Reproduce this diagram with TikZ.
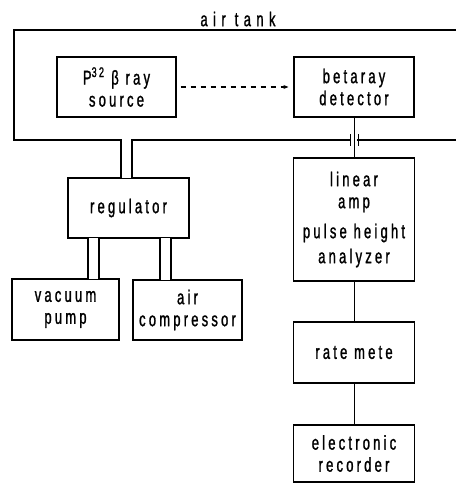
\documentclass[tikz,border=0pt]{standalone}
\usepackage{fontspec}
\setmainfont{Liberation Sans}[FakeStretch=0.65,LetterSpace=16,FakeBold=1.2]
\usetikzlibrary{arrows.meta,calc}

\begin{document}
\begin{tikzpicture}[x=1pt, y=-1pt,
  every node/.style={font=\fontsize{20}{22}\selectfont},
  unit/.style={draw, line width=1.2pt, align=center, inner sep=0pt},
  wall/.style={line width=1.4pt, line cap=rect},
  wire/.style={line width=1pt},
  beam/.style={line width=1.2pt, dash pattern=on 5pt off 5pt, -{Stealth[length=5pt,width=4pt]}, shorten <=4pt, shorten >=5pt}
]
\useasboundingbox (0,0) rectangle (456,483);

\node[font=\fontsize{20}{22}\selectfont\addfontfeatures{LetterSpace=27}] (tanklabel) at (238,19) {air\hspace{9pt}tank};
\node[unit, minimum width=119pt, minimum height=60pt] (src) at (116.5,87) {P\textsuperscript{32} β ray\\source};
\node[unit, minimum width=120pt, minimum height=60pt] (det) at (354,87) {betaray\\detector};
\node[unit, minimum width=121pt, minimum height=60pt] (reg) at (128.5,208) {regulator};
\node[unit, minimum width=107pt, minimum height=61pt] (vac) at (65.5,309.5) {vacuum\\pump};
\node[unit, minimum width=109pt, minimum height=60pt] (comp) at (187.5,310) {air\\compressor};
\node[unit, minimum width=121pt, minimum height=123pt] (lin) at (354,219.5) {linear\\amp\\[8pt]pulse height\\[3pt]analyzer};
\node[unit, minimum width=121pt, minimum height=61pt] (rate) at (354,352.5) {rate mete};
\node[unit, minimum width=121pt, minimum height=57pt] (rec) at (354,453.5) {electronic\\recorder};

% tank walls, open to the right
\coordinate (tankbottom) at (14,140);
\draw[wall] (456,30) -| (tankbottom) -- (350,140) (358,140) -- (456,140);
\draw[wire] (350,134) -- (350,146) (358,134) -- (358,146);

% air lines
\foreach \xa/\xb/\src/\dst in {121/132/tankbottom/reg.north, 88/99/reg.south/vac.north, 160/171/reg.south/comp.north}{
  \fill[white] ($(\xa,0 |- \src)+(0,-1)$) rectangle ($(\xb,0 |- \dst)+(0,1)$);
  \draw[wall] (\xa,0 |- \src) -- (\xa,0 |- \dst) (\xb,0 |- \src) -- (\xb,0 |- \dst);
}

\draw[beam] (src) -- (det);
\draw[wire] (det) -- (lin);
\draw[wire] (lin) -- (rate);
\draw[wire] (rate) -- (rec);
\end{tikzpicture}
\end{document}
